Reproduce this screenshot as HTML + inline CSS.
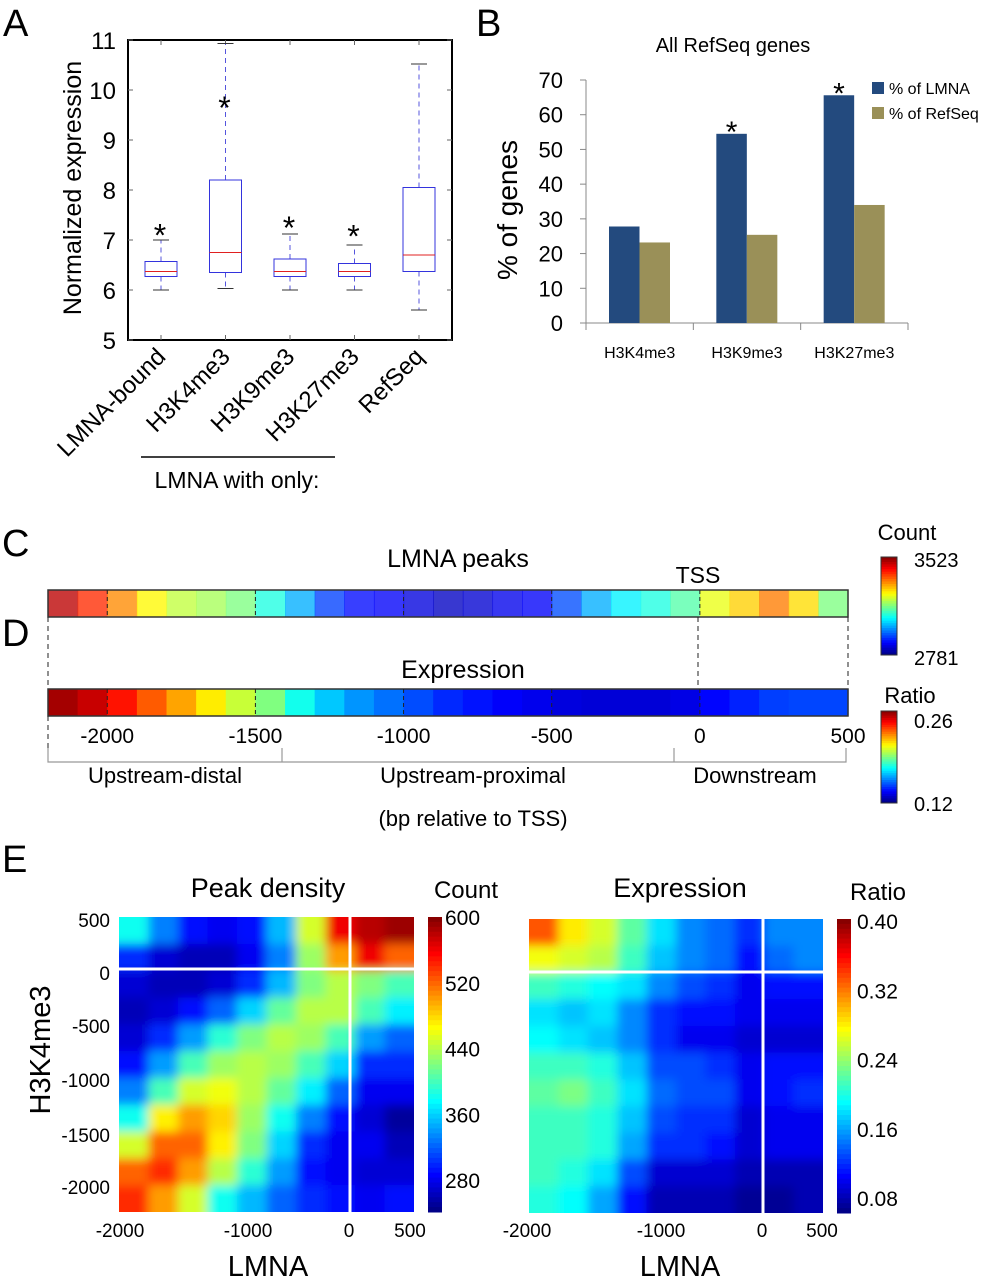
<!DOCTYPE html>
<html><head><meta charset="utf-8"><style>
body{margin:0;background:#fff}
svg{display:block;font-family:"Liberation Sans",sans-serif}
.n{font-family:"Liberation Sans Narrow","Liberation Sans",sans-serif}
</style></head><body>
<svg id="s" width="998" height="1280" viewBox="0 0 998 1280" xmlns="http://www.w3.org/2000/svg">
<defs>
<filter id="bl" x="-5%" y="-5%" width="110%" height="110%"><feGaussianBlur stdDeviation="5"/></filter>
<clipPath id="c1"><rect x="119" y="917" width="295" height="295"/></clipPath>
<clipPath id="c2"><rect x="529" y="919" width="294" height="294"/></clipPath>
</defs>
<g id="gA"></g>
<g id="gB"></g>
<g id="gC"></g>
<g id="gE"></g>
</svg>
<script>
// ---- Panel A data
const boxCats=["LMNA-bound","H3K4me3","H3K9me3","H3K27me3","RefSeq"];
const boxMin=[6.0,6.03,6.0,6.0,5.6];
const boxQ1=[6.27,6.35,6.27,6.27,6.37];
const boxMed=[6.37,6.75,6.37,6.37,6.7];
const boxQ3=[6.57,8.2,6.62,6.53,8.05];
const boxMax=[7.0,10.93,7.12,6.9,10.52];
const boxStar=[true,true,true,true,false];
const boxStarVal=[6.95,9.5,7.1,6.93,0];
const aTicks=[5,6,7,8,9,10,11];
// ---- Panel B data
const barCats=["H3K4me3","H3K9me3","H3K27me3"];
const barLMNA=[27.8,54.5,65.6];
const barRef=[23.2,25.4,34.0];
const barStar=[false,true,true];
const bTicks=[0,10,20,30,40,50,60,70];
// ---- Panel C/D data (bins of 100 bp from -2200 to 400)
const binStarts=[-2200,-2100,-2000,-1900,-1800,-1700,-1600,-1500,-1400,-1300,-1200,-1100,-1000,-900,-800,-700,-600,-500,-400,-300,-200,-100,0,100,200,300,400];
const peakCounts=[3480,3400,3330,3250,3200,3180,3150,3080,3000,2920,2880,2870,2850,2830,2840,2860,2870,2930,3000,3050,3080,3120,3230,3280,3340,3270,3150];
const exprRatio=[0.255,0.25,0.24,0.23,0.22,0.21,0.2,0.19,0.175,0.165,0.158,0.153,0.148,0.143,0.14,0.137,0.135,0.133,0.132,0.132,0.132,0.134,0.138,0.142,0.146,0.147,0.147];
const cdTicks=[-2000,-1500,-1000,-500,0,500];
// ---- Panel E data (11 rows top->bottom, 10 cols left->right)
const peakGrid=[
[380,330,290,280,290,350,450,560,580,590],
[300,270,260,260,280,330,430,500,560,520],
[270,260,260,270,300,350,420,440,420,400],
[260,270,290,320,360,410,440,440,400,370],
[270,300,340,390,420,440,430,400,340,320],
[290,340,400,430,440,430,400,360,300,300],
[330,400,450,460,440,410,370,320,280,280],
[380,470,500,480,430,380,330,290,270,250],
[450,520,520,470,420,360,300,280,280,260],
[520,540,500,440,390,340,290,280,270,270],
[540,500,450,380,350,320,300,290,280,290]];
const exprGrid=[
[0.33,0.28,0.26,0.22,0.18,0.15,0.14,0.12,0.15,0.15],
[0.27,0.26,0.25,0.21,0.17,0.15,0.14,0.11,0.14,0.15],
[0.21,0.20,0.19,0.18,0.15,0.13,0.12,0.10,0.11,0.11],
[0.18,0.17,0.18,0.15,0.12,0.11,0.11,0.10,0.10,0.10],
[0.19,0.18,0.17,0.15,0.12,0.10,0.10,0.09,0.09,0.09],
[0.21,0.21,0.20,0.17,0.13,0.13,0.12,0.10,0.11,0.11],
[0.22,0.23,0.21,0.18,0.14,0.13,0.13,0.10,0.11,0.12],
[0.21,0.21,0.20,0.17,0.13,0.12,0.12,0.09,0.10,0.10],
[0.21,0.21,0.20,0.16,0.12,0.12,0.11,0.09,0.10,0.10],
[0.21,0.20,0.18,0.13,0.09,0.09,0.09,0.08,0.08,0.08],
[0.20,0.19,0.16,0.11,0.08,0.08,0.08,0.07,0.07,0.08]];
const peakTicks=[600,520,440,360,280];
const exprTicks=[0.40,0.32,0.24,0.16,0.08];

const NS="http://www.w3.org/2000/svg";
function mk(p,tag,at,txt){const e=document.createElementNS(NS,tag);for(const k in at)e.setAttribute(k,at[k]);if(txt!==undefined)e.textContent=txt;p.appendChild(e);return e;}
function cl(v){return Math.max(0,Math.min(1,v));}
function jet(t){t=cl(t);const r=cl(1.5-Math.abs(4*t-3)),g=cl(1.5-Math.abs(4*t-2)),b=cl(1.5-Math.abs(4*t-1));return `rgb(${Math.round(r*255)},${Math.round(g*255)},${Math.round(b*255)})`;}
const svg=document.getElementById('s');

// Panel letters
[["A",3,36],["B",476,36],["C",2,556],["D",2,646],["E",2,872]].forEach(([l,x,y])=>{
 const t=mk(svg,'text',{x:x,y:y,'font-size':38},l);
 
 
});

// ===== Panel A
(function(){
 const g=document.getElementById('gA');
 const L=128,R=452,T=40,B=340;
 const y=v=>T+(11-v)*(B-T)/6;
 const xc=i=>161+i*64.5;
 const fr=mk(g,'rect',{x:L,y:T,width:R-L,height:B-T,fill:'none',stroke:'#000','stroke-width':2});
 
 aTicks.forEach(v=>{
  mk(g,'line',{x1:L,x2:L+5,y1:y(v),y2:y(v),stroke:'#666'});
  mk(g,'line',{x1:R-5,x2:R,y1:y(v),y2:y(v),stroke:'#666'});
  const t=mk(g,'text',{x:L-12,y:y(v)+9,'font-size':24,'text-anchor':'end'},v);
  
 });
 const yl=mk(g,'text',{x:0,y:0,'font-size':25,'text-anchor':'middle',transform:'translate(81,188) rotate(-90)'},'Normalized expression');
 
 boxCats.forEach((c,i)=>{
  const x=xc(i),hw=16;
  mk(g,'line',{x1:x,x2:x,y1:T,y2:T+5,stroke:'#666'});
  mk(g,'line',{x1:x,x2:x,y1:B-5,y2:B,stroke:'#666'});
  const bg=mk(g,'g',{});
  
  mk(bg,'line',{x1:x,x2:x,y1:y(boxQ3[i]),y2:y(boxMax[i]),stroke:'#5555dd','stroke-dasharray':'5,4'});
  mk(bg,'line',{x1:x,x2:x,y1:y(boxQ1[i]),y2:y(boxMin[i]),stroke:'#5555dd','stroke-dasharray':'5,4'});
  mk(bg,'line',{x1:x-8,x2:x+8,y1:y(boxMax[i]),y2:y(boxMax[i]),stroke:'#333'});
  mk(bg,'line',{x1:x-8,x2:x+8,y1:y(boxMin[i]),y2:y(boxMin[i]),stroke:'#333'});
  mk(bg,'rect',{x:x-hw,y:y(boxQ3[i]),width:2*hw,height:y(boxQ1[i])-y(boxQ3[i]),fill:'#fff',stroke:'#3333dd'});
  mk(bg,'line',{x1:x-hw,x2:x+hw,y1:y(boxMed[i]),y2:y(boxMed[i]),stroke:'#e02020'});
  if(boxStar[i]){const s=mk(g,'text',{x:x-1,y:y(boxStarVal[i])+4,'font-size':32,'text-anchor':'middle'},'*');
   }
  const t=mk(g,'text',{x:0,y:0,'font-size':24,'text-anchor':'end',transform:`translate(${x+6},${B+18}) rotate(-45)`},c);
  
 });
 mk(g,'line',{x1:141,x2:335,y1:457,y2:457,stroke:'#000','stroke-width':1.5});
 const gl=mk(g,'text',{x:237,y:488,'font-size':23,'text-anchor':'middle'},'LMNA with only:');
 
})();

// ===== Panel B
(function(){
 const g=document.getElementById('gB');
 const X0=586,X1=908,Y0=323;
 const y=v=>Y0-v*(Y0-80)/70;
 const gw=(X1-X0)/3;
 const t=mk(g,'text',{x:733,y:52,'font-size':20,'text-anchor':'middle'},'All RefSeq genes');
 
 mk(g,'line',{x1:X0,x2:X0,y1:80,y2:Y0,stroke:'#888'});
 mk(g,'line',{x1:X0-6,x2:X1,y1:Y0,y2:Y0,stroke:'#888'});
 bTicks.forEach(v=>{
  mk(g,'line',{x1:X0-6,x2:X0,y1:y(v),y2:y(v),stroke:'#888'});
  const l=mk(g,'text',{x:563,y:y(v)+8,'font-size':22,'text-anchor':'end'},v);
  
 });
 for(let k=0;k<=3;k++) mk(g,'line',{x1:X0+k*gw,x2:X0+k*gw,y1:Y0,y2:Y0+7,stroke:'#888'});
 const yl=mk(g,'text',{x:0,y:0,'font-size':28,'text-anchor':'middle',transform:'translate(517,210) rotate(-90)'},'% of genes');
 
 barCats.forEach((c,i)=>{
  const gx=X0+i*gw, bx=gx+23, bw=30.5;
  const b1=mk(g,'rect',{x:bx,y:y(barLMNA[i]),width:bw,height:Y0-y(barLMNA[i]),fill:'#234a7e'});
  
  const b2=mk(g,'rect',{x:bx+bw,y:y(barRef[i]),width:bw,height:Y0-y(barRef[i]),fill:'#9a9058'});
  
  if(barStar[i]){const s=mk(g,'text',{x:bx+bw/2,y:y(barLMNA[i])+8,'font-size':30,'text-anchor':'middle'},'*');
   }
  const l=mk(g,'text',{x:gx+gw/2,y:358,'font-size':16,'text-anchor':'middle'},c);
  
 });
 const le=mk(g,'g',{});
 mk(le,'rect',{x:872,y:82,width:12,height:12,fill:'#234a7e'});
 mk(le,'text',{x:889,y:94,'font-size':16},'% of LMNA');
 mk(le,'rect',{x:872,y:107,width:12,height:12,fill:'#9a9058'});
 mk(le,'text',{x:889,y:119,'font-size':16},'% of RefSeq');
})();

// ===== Panel C/D
(function(){
 const g=document.getElementById('gC');
 const x=v=>48+(v+2200)*(848-48)/2700;
 function bar(vals,vmin,vmax,yTop,h,name,muted){
  const gg=mk(g,'g',{});
  binStarts.forEach((b,i)=>{
   const r=mk(gg,'rect',{x:x(b),y:yTop,width:x(b+100)-x(b)+0.6,height:h,fill:jet((vals[i]-vmin)/(vmax-vmin)),opacity:muted?0.78:1});
   
  });
  mk(gg,'rect',{x:48,y:yTop,width:800,height:h,fill:'none',stroke:'#333','stroke-width':1.5});
  [-2000,-1500,-1000,-500,0].forEach(v=>mk(gg,'line',{x1:x(v),x2:x(v),y1:yTop,y2:yTop+h,stroke:'#222','stroke-dasharray':'4,3'}));
 }
 bar(peakCounts,2781,3523,590,27,'lmna-peaks-bar',true);
 bar(exprRatio,0.12,0.26,689,27,'expression-bar',false);
 [[48,617,688],[698,617,688],[848,617,688],[48,716,752]].forEach(a=>mk(g,'line',{x1:a[0],x2:a[0],y1:a[1],y2:a[2],stroke:'#222','stroke-dasharray':'5,4'}));
 const txt=(s,xx,yy,fs,anc,nm)=>{const t=mk(g,'text',{x:xx,y:yy,'font-size':fs,'text-anchor':anc,class:'n'},s);return t;};
 txt('LMNA peaks',458,567,25,'middle','c-title');
 txt('TSS',698,583,23,'middle','tss-label');
 txt('Expression',463,678,25,'middle','d-title');
 cdTicks.forEach(v=>txt(v,x(v),743,21,'middle','x-tick-label'));
 mk(g,'path',{d:'M48,748V762H846V748M282,762V748M674,762V748',fill:'none',stroke:'#999','stroke-width':1.2});
 txt('Upstream-distal',165,783,22,'middle','region-label');
 txt('Upstream-proximal',473,783,22,'middle','region-label');
 txt('Downstream',755,783,22,'middle','region-label');
 txt('(bp relative to TSS)',473,826,22,'middle','x-axis-title');
 function cbar(yT,yB,name){
  const gg=mk(g,'g',{});
  const n=40,h=(yB-yT)/n;
  for(let k=0;k<n;k++)mk(gg,'rect',{x:881,y:yT+k*h,width:16,height:h+0.5,fill:jet(1-(k+0.5)/n)});
  mk(gg,'rect',{x:881,y:yT,width:16,height:yB-yT,fill:'none',stroke:'#333'});
 }
 cbar(557,655,'count-colorbar');cbar(711,803,'ratio-colorbar');
 txt('Count',907,540,22,'middle','colorbar-title');
 txt('3523',914,567,20,'start','colorbar-max');
 txt('2781',914,665,20,'start','colorbar-min');
 txt('Ratio',910,703,22,'middle','colorbar-title');
 txt('0.26',914,728,20,'start','colorbar-max');
 txt('0.12',914,811,20,'start','colorbar-min');
})();

// ===== Panel E
(function(){
 const g=document.getElementById('gE');
 function heat(grid,vmin,vmax,X,Y,W,H,vx,hy,clip,name){
  const gg=mk(g,'g',{'clip-path':`url(#${clip})`});
  
  const inner=mk(gg,'g',{filter:'url(#bl)'});
  const nr=grid.length,nc=grid[0].length,cw=W/nc,ch=H/nr;
  grid.forEach((row,r)=>row.forEach((v,c)=>{
   const e=mk(inner,'rect',{x:X+c*cw-(c==0?12:0),y:Y+r*ch-(r==0?12:0),width:cw+(c==0||c==nc-1?12:0)+0.5,height:ch+(r==0||r==nr-1?12:0)+0.5,fill:jet((v-vmin)/(vmax-vmin))});
   
  }));
  mk(g,'line',{x1:vx,x2:vx,y1:Y,y2:Y+H,stroke:'#fff','stroke-width':3});
  mk(g,'line',{x1:X,x2:X+W,y1:hy,y2:hy,stroke:'#fff','stroke-width':3});
 }
 function cbar(X,Y,H,name){
  const gg=mk(g,'g',{});
  const n=60,h=H/n;
  for(let k=0;k<n;k++)mk(gg,'rect',{x:X,y:Y+k*h,width:14,height:h+0.5,fill:jet(1-(k+0.5)/n)});
 }
 const txt=(s,xx,yy,fs,anc,nm,tr)=>{const a={x:xx,y:yy,'font-size':fs,'text-anchor':anc};if(tr)a.transform=tr;const t=mk(g,'text',a,s);return t;};
 heat(peakGrid,240,600,119,917,295,295,350,969,'c1','peak-density-heatmap');
 heat(exprGrid,0.063,0.40,529,919,294,294,763,972,'c2','expression-heatmap');
 cbar(428,917,295,'count-colorbar-e');cbar(837,919,294,'ratio-colorbar-e');
 const pc=v=>917+(600-v)*(1180-917)/320;
 peakTicks.forEach(v=>txt(v,445,pc(v)+8,21,'start','colorbar-tick'));
 const ec=v=>921+(0.40-v)*(1198-921)/0.32;
 exprTicks.forEach(v=>txt(v.toFixed(2),857,ec(v)+8,21,'start','colorbar-tick'));
 txt('Peak density',268,897,27,'middle','e-left-title');
 txt('Count',466,898,24,'middle','colorbar-title');
 txt('Expression',680,897,27,'middle','e-right-title');
 txt('Ratio',878,900,24,'middle','colorbar-title');
 [['500',920],['0',973],['-500',1026],['-1000',1080],['-1500',1135],['-2000',1187]].forEach(([l,yy])=>txt(l,110,yy+7,19,'end','y-tick-label'));
 txt('H3K4me3',0,0,29,'middle','y-axis-title','translate(50,1050) rotate(-90)');
 [['-2000',120],['-1000',248],['0',349],['500',410]].forEach(([l,xx])=>txt(l,xx,1237,19,'middle','x-tick-label'));
 [['-2000',527],['-1000',661],['0',762],['500',822]].forEach(([l,xx])=>txt(l,xx,1237,19,'middle','x-tick-label'));
 txt('LMNA',268,1276,29,'middle','x-axis-title');
 txt('LMNA',680,1276,29,'middle','x-axis-title');
})();
</script>
</body></html>
